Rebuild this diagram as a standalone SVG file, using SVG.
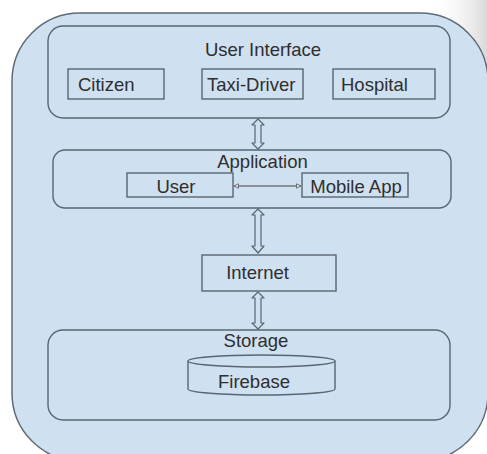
<svg xmlns="http://www.w3.org/2000/svg" width="487" height="454" viewBox="0 0 487 454">
  <defs>
    <linearGradient id="edgeShade" x1="0" y1="0" x2="1" y2="0">
      <stop offset="0" stop-color="#ffffff" stop-opacity="0"/>
      <stop offset="1" stop-color="#d9d9d9"/>
    </linearGradient>
    <marker id="tip" viewBox="0 0 8 8" refX="7" refY="4" markerWidth="6" markerHeight="6" orient="auto-start-reverse" markerUnits="userSpaceOnUse">
      <path d="M1,1 L7,4 L1,7 Z" fill="#cfe0f1" stroke="#555" stroke-width="1"/>
    </marker>
    <style>
      .panel { fill: #cfe0f1; stroke: #5f6a74; stroke-width: 1.5; }
      .group { fill: none; stroke: #5a6570; stroke-width: 1.4; }
      .box { fill: #cfe0f1; stroke: #5a6570; stroke-width: 1.4; }
      .label { font-family: "Liberation Sans", Arial, sans-serif; font-size: 18.5px; fill: #2e2e2e; }
      .mid { text-anchor: middle; }
      .dbl { fill: #cfe0f1; stroke: #5a6570; stroke-width: 1.2; stroke-linejoin: round; }
      .link { stroke: #444; stroke-width: 1; fill: none; }
    </style>
  </defs>

  <rect x="0" y="0" width="487" height="454" fill="#ffffff"/>
  <rect x="430" y="0" width="57" height="110" fill="url(#edgeShade)"/>

  <!-- outer panel -->
  <rect class="panel" x="12" y="13" width="476" height="448" rx="68" ry="68"/>

  <!-- user interface layer -->
  <g id="user-interface">
    <rect class="group" x="48" y="26" width="402" height="92" rx="15"/>
    <text class="label mid" x="263" y="56">User Interface</text>
  </g>
  <g id="citizen">
    <rect class="box" x="68" y="69" width="96" height="30"/>
    <text class="label" x="78" y="91">Citizen</text>
  </g>
  <g id="taxi-driver">
    <rect class="box" x="202" y="69" width="101" height="30"/>
    <text class="label" x="207" y="91">Taxi-Driver</text>
  </g>
  <g id="hospital">
    <rect class="box" x="333" y="69" width="102" height="30"/>
    <text class="label" x="341" y="91">Hospital</text>
  </g>

  <!-- application layer -->
  <g id="application">
    <rect class="group" x="53" y="150" width="398" height="58" rx="12"/>
    <text class="label mid" x="262.5" y="168">Application</text>
  </g>
  <g id="user">
    <rect class="box" x="127" y="173" width="106" height="24"/>
    <text class="label mid" x="176" y="193">User</text>
  </g>
  <g id="mobile-app">
    <rect class="box" x="302" y="173" width="106" height="24"/>
    <text class="label mid" x="356" y="193">Mobile App</text>
  </g>

  <!-- internet -->
  <g id="internet">
    <rect class="box" x="202" y="255" width="134" height="36"/>
    <text class="label mid" x="257.5" y="279">Internet</text>
  </g>

  <!-- storage layer -->
  <g id="storage">
    <rect class="group" x="48" y="330" width="402" height="90" rx="15"/>
    <text class="label mid" x="256" y="347">Storage</text>
  </g>
  <g id="firebase">
    <path class="box" d="M188,361 L188,389 A73.5,6 0 0 0 335,389 L335,361"/>
    <ellipse class="box" cx="261.5" cy="361" rx="73.5" ry="6"/>
    <text class="label mid" x="254" y="388">Firebase</text>
  </g>

  <!-- connectors -->
  <g id="connectors">
    <path class="dbl" d="M258,119 L264,125 L261,125 L261,143 L264,143 L258,149 L252,143 L255,143 L255,125 L252,125 Z"/>
    <path class="dbl" d="M258,209 L264,215 L261,215 L261,246 L264,246 L258,253 L252,246 L255,246 L255,215 L252,215 Z"/>
    <path class="dbl" d="M258,292 L264,298 L261,298 L261,323 L264,323 L258,329 L252,323 L255,323 L255,298 L252,298 Z"/>
    <line class="link" x1="234" y1="186" x2="301" y2="186" marker-start="url(#tip)" marker-end="url(#tip)"/>
  </g>
</svg>
